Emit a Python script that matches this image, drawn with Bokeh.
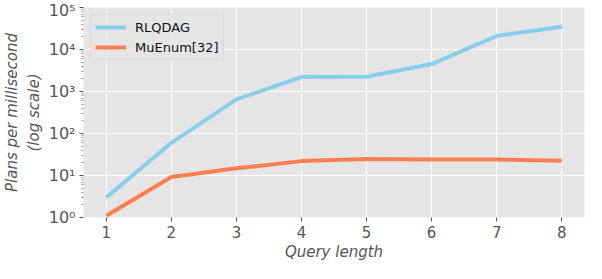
from bokeh.plotting import figure
from bokeh.models import FixedTicker, Range1d
from bokeh.embed import file_html
from bokeh.resources import INLINE

query_length = [1, 2, 3, 4, 5, 6, 7, 8]
rlqdag = [3.0, 60, 650, 2200, 2250, 4500, 21000, 35000]
muenum = [1.1, 9.2, 14.8, 22, 24.7, 24, 24, 22.5]

y_major = [1, 10, 100, 1000, 10000, 100000]
y_labels = ["10⁰", "10¹", "10²", "10³", "10⁴", "10⁵"]
x_ticks = [1, 2, 3, 4, 5, 6, 7, 8]

FONT = "DejaVu Sans"

p = figure(width=586, height=263, y_axis_type="log",
           x_range=Range1d(0.65, 8.35), y_range=Range1d(1, 100000),
           output_backend="svg", toolbar_location=None,
           min_border_left=78, min_border_right=2, min_border_top=7, min_border_bottom=10)

p.background_fill_color = "#E5E5E5"
p.border_fill_color = "white"
p.outline_line_color = None

p.line(query_length, rlqdag, line_width=4, color="#87CEEB", line_join="round", legend_label="RLQDAG")
p.line(query_length, muenum, line_width=4, color="#FF7F50", line_join="round", legend_label="MuEnum[32]")

minor = [m * d for d in y_major[:-1] for m in range(2, 10)]
p.yaxis.ticker = FixedTicker(ticks=y_major, minor_ticks=minor)
p.yaxis.major_label_overrides = {v: l for v, l in zip(y_major, y_labels)}
p.xaxis.ticker = FixedTicker(ticks=x_ticks, minor_ticks=[])

for ax in (p.xaxis[0], p.yaxis[0]):
    ax.axis_line_color = None
    ax.major_tick_line_color = "#555555"
    ax.major_tick_out = 4
    ax.major_tick_in = 0
    ax.minor_tick_line_color = "#555555"
    ax.minor_tick_line_width = 0.6
    ax.minor_tick_out = 2
    ax.minor_tick_in = 0
    ax.major_label_text_font = FONT
    ax.major_label_text_font_size = "15px"
    ax.major_label_text_color = "#555555"
    ax.axis_label_text_font = FONT
    ax.axis_label_text_font_size = "15px"
    ax.axis_label_text_font_style = "italic"
    ax.axis_label_text_color = "#555555"

p.yaxis.major_label_text_font_size = "16px"
p.xaxis.axis_label = "Query length"
p.yaxis.axis_label = "Plans per millisecond\n(log scale)"
p.xaxis.major_label_standoff = 4
p.xaxis.axis_label_standoff = 2
p.yaxis.major_label_standoff = 4
p.yaxis.axis_label_standoff = 3

p.xgrid.grid_line_color = "white"
p.ygrid.grid_line_color = "white"
p.xgrid.grid_line_width = 1
p.ygrid.grid_line_width = 1

lg = p.legend[0]
lg.location = "top_left"
lg.margin = 7
lg.padding = 4
lg.spacing = 4
lg.glyph_width = 31
lg.glyph_height = 16
lg.label_height = 16
lg.label_standoff = 9
lg.label_text_font = FONT
lg.label_text_font_size = "13px"
lg.label_text_color = "#111111"
lg.background_fill_color = "#E5E5E5"
lg.background_fill_alpha = 0.8
lg.border_line_color = "#CCCCCC"
lg.border_line_width = 1

open("out.html", "w").write(file_html(p, INLINE))
